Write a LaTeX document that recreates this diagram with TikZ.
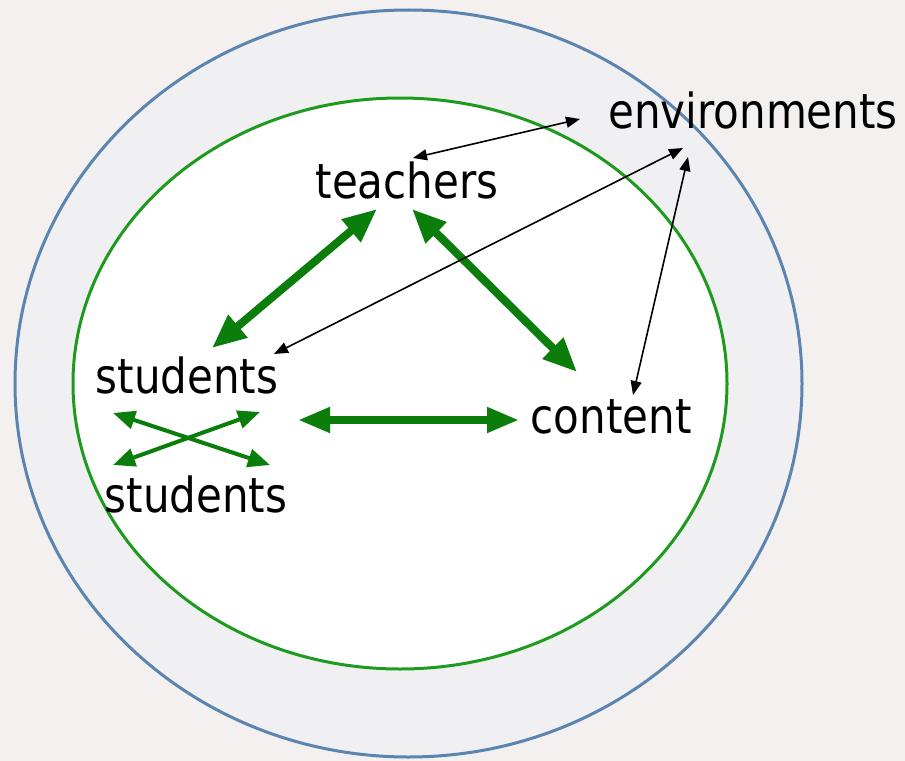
\documentclass[tikz,border=0pt]{standalone}
\usepackage{fontspec}
\setmainfont{DejaVu Sans}[FakeStretch=0.87]
\usetikzlibrary{arrows.meta}
\definecolor{bgc}{HTML}{F3F0EF}
\definecolor{outerfill}{HTML}{F0F0F2}
\definecolor{outerline}{HTML}{5B84B1}
\definecolor{innerline}{HTML}{1E9B1E}
\definecolor{arrgreen}{HTML}{0A7D0A}
\tikzset{
  lbl/.style={inner sep=0pt, anchor=base, font=\fontsize{48.5}{58}\selectfont, text=black},
  bigarrow/.style={draw=arrgreen, line width=8bp, {Triangle[length=34bp,width=28bp]}-{Triangle[length=34bp,width=28bp]}},
  midarrow/.style={draw=arrgreen, line width=7.5bp, {Triangle[length=32bp,width=24bp]}-{Triangle[length=32bp,width=24bp]}},
  smallarrow/.style={draw=arrgreen, line width=4bp, {Triangle[length=22bp,width=18bp]}-{Triangle[length=22bp,width=18bp]}},
  thinarrow/.style={draw=black, line width=1.6bp, {Triangle[length=14bp,width=11bp]}-{Triangle[length=14bp,width=11bp]}}
}
\begin{document}
\begin{tikzpicture}[x=1bp,y=-1bp]
\useasboundingbox (0,0) rectangle (905,761);
\fill[bgc] (0,0) rectangle (905,761);
\draw[outerline, fill=outerfill, line width=3bp] (408.5,383.5) ellipse [x radius=393.5, y radius=373.5];
\draw[innerline, fill=white, line width=3bp] (400,383.5) ellipse [x radius=327, y radius=285.5];

\node[lbl] (teachers) at (407,198) {teachers};
\node[lbl] (env) at (753,128) {environments};
\node[lbl] (content) at (611,433) {content};
\node[lbl] (stud1) at (187,393) {students};
\node[lbl] (stud2) at (196,512) {students};

% arrow end points
\coordinate (tS) at (377,209);
\coordinate (sT) at (212,348);
\coordinate (tC) at (412,209);
\coordinate (cT) at (577,372);
\coordinate (sC) at (298,420);
\coordinate (cS) at (519,420);
\coordinate (xa) at (113,413);
\coordinate (xb) at (270,465);
\coordinate (xc) at (113,465);
\coordinate (xd) at (260,412);
\coordinate (tE) at (413,158);
\coordinate (eT) at (580,119);
\coordinate (sE) at (274,354);
\coordinate (eS) at (683,148);
\coordinate (cE) at (633,395);
\coordinate (eC) at (688,157);

\draw[bigarrow] (sT) -- (tS);
\draw[bigarrow] (tC) -- (cT);
\draw[midarrow] (sC) -- (cS);
\draw[smallarrow] (xa) -- (xb);
\draw[smallarrow] (xc) -- (xd);
\draw[thinarrow] (tE) -- (eT);
\draw[thinarrow] (sE) -- (eS);
\draw[thinarrow] (cE) -- (eC);
\end{tikzpicture}
\end{document}
